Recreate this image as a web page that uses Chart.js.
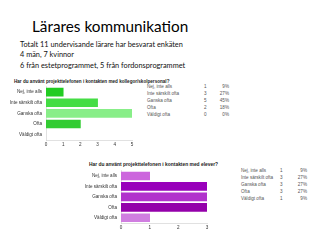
<!DOCTYPE html>
<html>
<head>
<meta charset="utf-8">
<script src="https://cdn.jsdelivr.net/npm/chart.js@4"></script>
<style>
  body { margin: 0; width: 320px; height: 240px; background: #fff; position: relative; overflow: hidden; }
  .txt { position: absolute; white-space: nowrap; color: #000; }
  #title { left: 32px; top: 17px; font-family: Lato, "Open Sans", sans-serif; font-size: 15.3px; }
  #intro { left: 20px; top: 40px; font-family: Lato, "Open Sans", sans-serif; font-size: 7.35px; line-height: 10.4px; color: #111; }
  .ctitle { font-family: "Liberation Sans", Arial, sans-serif; font-weight: bold; font-size: 4.6px; color: #222; }
  .leg { font-family: "Liberation Sans", Arial, sans-serif; font-size: 4.6px; color: #555; }
  canvas { position: absolute; }
</style>
</head>
<body>
<div id="title" class="txt">Lärares kommunikation</div>
<div id="intro" class="txt">Totalt 11 undervisande lärare har besvarat enkäten<br>4 män, 7 kvinnor<br>6 från estetprogrammet, 5 från fordonsprogrammet</div>
<div id="t1" class="txt ctitle" style="left:14px; top:79px;">Har du använt projekttelefonen i kontakten med kollegor/skolpersonal?</div>
<div id="t2" class="txt ctitle" style="left:89px; top:162px; font-size:4.9px;">Har du använt projekttelefonen i kontakten med elever?</div>
<div id="leg1"></div>
<div id="leg2"></div>
<canvas id="c1" width="140" height="69" style="left:0px; top:80px; width:140px; height:69px;"></canvas>
<canvas id="c2" width="175" height="68" style="left:40px; top:164px; width:175px; height:68px;"></canvas>
<script>
const categories = ["Nej, inte alls", "Inte särskilt ofta", "Ganska ofta", "Ofta", "Väldigt ofta"];

const colleagueCounts = [1, 3, 5, 2, 0];
const colleaguePercents = ["9%", "27%", "45%", "18%", "0%"];
const colleagueColors = ["#22cc22", "#44dd44", "#88ee88", "#33cc33", "rgba(0,0,0,0)"];

const studentCounts = [1, 3, 3, 3, 1];
const studentPercents = ["9%", "27%", "27%", "27%", "9%"];
const studentColors = ["#cc66dd", "#9900bb", "#b133cc", "#9400aa", "#d07ee0"];

const ticks1 = [0, 1, 2, 3, 4, 5];
const ticks2 = [0, 1, 2, 3];

const tickFont = { family: "Liberation Sans", size: 4.6 };

function build_legend(el, labelX, countX, pctX, top, counts, percents){
    for (let i = 0; i < categories.length; i++) {
        let y = top + i * 7;
        let lab = document.createElement("div");
        lab.className = "txt leg";
        lab.style.left = labelX + "px";
        lab.style.top = y + "px";
        lab.innerText = categories[i];
        el.appendChild(lab);

        let cnt = document.createElement("div");
        cnt.className = "txt leg";
        cnt.style.left = countX + "px";
        cnt.style.top = y + "px";
        cnt.innerText = counts[i];
        el.appendChild(cnt);

        let pct = document.createElement("div");
        pct.className = "txt leg";
        pct.style.right = (320 - pctX) + "px";
        pct.style.top = y + "px";
        pct.innerText = percents[i];
        el.appendChild(pct);
    }
}

function draw_bars(canvasId, counts, colors, maxVal, tickList, yWidth, rightPad) {
    const ctx = document.getElementById(canvasId).getContext("2d");
    return new Chart(ctx, {
        type: "bar",
        data: {
            labels: categories,
            datasets: [{
                data: counts,
                backgroundColor: colors,
                borderWidth: 0,
                barThickness: 8,
            }],
        },
        options: {
            indexAxis: "y",
            responsive: false,
            animation: false,
            layout: { padding: { top: 0, right: rightPad, bottom: 0, left: 0 } },
            plugins: { legend: { display: false }, tooltip: { enabled: false } },
            scales: {
                x: {
                    type: "linear",
                    min: 0,
                    max: maxVal,
                    afterBuildTicks: (scale) => { scale.ticks = tickList.map(v => ({ value: v })); },
                    afterFit: (scale) => { scale.height = 9; },
                    grid: { display: false, drawTicks: false },
                    border: { display: true, color: "#cccccc", width: 0.6 },
                    ticks: { font: tickFont, color: "#333", padding: 1.5, maxRotation: 0 },
                },
                y: {
                    afterFit: (scale) => { scale.width = yWidth; },
                    grid: { display: false, drawTicks: false },
                    border: { display: true, color: "#cccccc", width: 0.6 },
                    ticks: { font: tickFont, color: "#333", padding: 4 },
                },
            },
        },
    });
}

build_legend(document.getElementById("leg1"), 147, 204, 229, 84, colleagueCounts, colleaguePercents);
build_legend(document.getElementById("leg2"), 241, 280, 307, 168, studentCounts, studentPercents);

draw_bars("c1", colleagueCounts, colleagueColors, 5, ticks1, 46, 8);
draw_bars("c2", studentCounts, studentColors, 3, ticks2, 81, 8);
</script>
</body>
</html>
